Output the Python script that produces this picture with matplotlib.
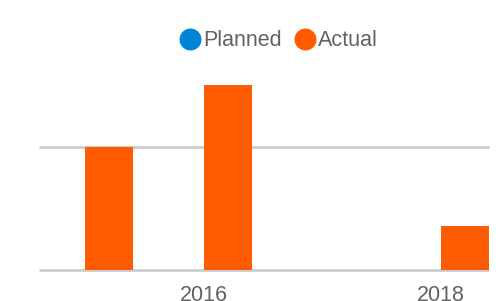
import matplotlib
matplotlib.use("Agg")
import matplotlib.pyplot as plt
from matplotlib.lines import Line2D
import numpy as np

categories = ["2015", "2016", "2017", "2018"]
planned = [0, 0, 0, 0]
actual = [2.0, 3.0, 0.0, 0.7]
shown_labels = {"2016", "2018"}

BLUE = "#0084D4"
ORANGE = "#FF5B00"
GRID = "#CCCCCC"
TEXT = "#626262"

plt.rcParams["font.family"] = ["Liberation Sans", "DejaVu Sans"]

fig = plt.figure(figsize=(5.04, 3.01), dpi=100)
ax = fig.add_axes([39 / 504, 31.5 / 301, 450 / 504, 246 / 301])

x = np.arange(len(categories))
w = 0.405
ax.bar(x - w, planned, width=w, align="edge", color=BLUE, label="Planned")
ax.bar(x, actual, width=w, align="edge", color=ORANGE, label="Actual", zorder=3)

ax.set_xlim(-0.39, 3.405)
ax.set_ylim(0, 4)
ax.set_yticks([0, 2])
ax.yaxis.grid(True, color=GRID, linewidth=2, solid_capstyle="butt")
for gl in ax.yaxis.get_gridlines():
    gl.set_clip_on(False)
ax.set_axisbelow(True)
ax.tick_params(axis="y", left=False, labelleft=False)

tick_pos = [i for i, c in enumerate(categories) if c in shown_labels]
ax.set_xticks(tick_pos)
ax.set_xticklabels([categories[i] for i in tick_pos], fontsize=15.5, color=TEXT)
ax.tick_params(axis="x", length=0, pad=11)
for s in ax.spines.values():
    s.set_visible(False)

handles = [
    Line2D([], [], marker="o", linestyle="", markersize=14.8, color=BLUE),
    Line2D([], [], marker="o", linestyle="", markersize=14.8, color=ORANGE),
]
leg = fig.legend(handles, ["Planned", "Actual"], loc="center",
                 bbox_to_anchor=(277 / 504, 1 - 41 / 301), ncol=2, frameon=False,
                 fontsize=15.5, handletextpad=-0.05, columnspacing=0.45,
                 handlelength=1.3, borderpad=0)
for t in leg.get_texts():
    t.set_color(TEXT)

fig.savefig("out.png", dpi=100)
